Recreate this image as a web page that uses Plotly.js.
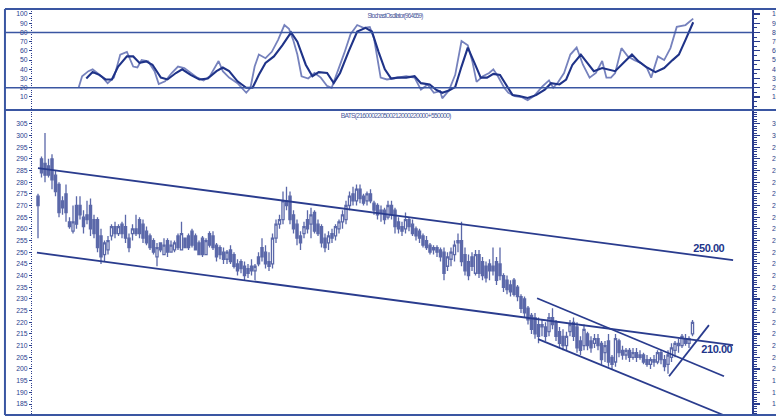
<!DOCTYPE html>
<html><head><meta charset="utf-8">
<script src="https://cdn.plot.ly/plotly-3.0.1.min.js"></script>
<style>
html,body{margin:0;padding:0;background:#fff;}
#chart{width:776px;height:417px;}
g.annotation[data-index="0"] text, g.annotation[data-index="1"] text{letter-spacing:-0.45px;}
g.annotation[data-index="2"] text, g.annotation[data-index="3"] text{letter-spacing:-0.8px;}
</style></head><body><div id="chart"></div>
<script>
// ---- candle data (daily OHLC) ----
const open = [274,290,288,287,290,283,279,272,275,263,
 259,270,270,265,266,270,264,264,257,249,
 251,257,261,258,262,261,256,258,260,264,
 262,259,257,255,248,254,249,255,250,251,
 257,251,256,257,259,257,254,256,249,258,
 257,253,252,250,247,251,249,245,246,244,
 243,244,242,248,252,250,246,245,256,262,
 264,272,274,266,262,257,258,264,262,267,
 262,261,256,254,258,257,260,263,264,270,
 275,272,277,274,272,275,271,270,267,268,
 265,270,268,263,261,260,264,262,260,259,
 257,255,253,252,252,251,250,244,247,249,
 254,255,249,246,248,241,249,246,244,245,
 244,246,245,240,238,236,238,235,231,230,
 226,223,222,219,218,218,216,222,220,216,
 214,210,216,220,218,212,210,215,212,211,
 213,211,207,212,205,203,212,208,206,208,
 205,207,205,206,204,202,204,203,207,204,
 202,205,208,211,210,213,211,215];
const high = [275,291,301,290,292,285,280,274,279,265,
 270,274,274,268,272,273,266,265,260,255,
 257,262,263,262,263,266,258,262,266,265,
 264,261,258,256,254,254,256,256,255,255,
 258,263,256,258,260,258,255,257,256,259,
 259,254,253,252,251,253,250,247,247,246,
 245,247,245,250,256,253,250,258,264,266,
 276,278,276,268,264,259,263,268,269,268,
 264,262,258,259,260,262,264,268,272,276,
 278,279,279,275,276,277,272,271,270,269,
 272,272,269,265,263,267,265,264,261,260,
 258,257,254,253,253,252,252,250,252,255,
 258,263,252,249,250,251,251,248,246,247,
 252,248,252,241,240,238,239,236,232,231,
 227,224,224,222,221,220,224,226,221,218,
 217,216,221,222,220,214,219,216,214,215,
 215,212,212,215,206,215,213,210,209,209,
 209,209,208,207,206,205,206,208,208,206,
 208,211,212,213,215,215,214,221];
const low = [256,282,280,282,277,274,265,266,263,260,
 258,260,264,258,262,257,256,250,245,246,
 249,255,256,257,256,254,250,255,257,256,
 254,253,251,249,244,250,249,248,250,250,
 251,251,252,251,252,251,249,248,249,252,
 251,246,247,245,245,245,243,240,241,238,
 239,240,238,244,246,243,242,243,254,260,
 262,268,262,258,253,251,256,258,256,258,
 257,252,250,251,254,255,258,260,262,268,
 270,270,271,270,270,271,266,264,263,262,
 264,264,258,258,257,258,259,257,255,254,
 252,251,249,249,248,246,238,242,244,246,
 250,244,240,238,242,240,239,238,237,238,
 240,236,238,233,232,231,231,229,224,222,
 219,215,213,211,214,212,214,217,212,209,
 208,208,214,212,207,206,208,208,207,209,
 208,202,203,201,200,201,205,204,204,203,
 204,203,204,202,201,200,201,202,202,199,
 198,203,205,207,209,210,209,214];
const close = [270,284,283,283,281,276,267,269,267,261,
 263,262,266,261,264,260,258,252,248,254,
 255,261,258,261,258,256,252,260,258,258,
 256,254,252,250,252,251,253,250,253,254,
 252,258,252,252,253,251,249,249,255,253,
 252,248,249,247,250,246,244,242,243,240,
 241,242,244,245,248,245,244,256,262,264,
 272,270,264,260,256,254,261,260,266,259,
 258,254,252,257,256,261,263,266,270,274,
 272,277,273,271,275,272,268,266,268,264,
 270,266,261,260,259,264,261,258,257,256,
 253,252,250,251,250,248,241,248,250,253,
 255,246,242,240,244,249,241,240,239,242,
 242,238,240,235,234,233,232,231,226,224,
 221,217,215,214,219,214,222,219,214,211,
 210,214,219,214,209,208,217,210,209,213,
 210,204,210,203,202,213,207,206,208,205,
 207,205,206,203,202,204,203,207,204,201,
 206,209,211,210,214,211,213,220];
const dayIndex = open.map((_, i) => i);

// ---- stochastic oscillator ----
const stochKx = [11.6,12.6,14.4,15.6,18.1,19.9,21.7,23.5,25.4,27.2,28.4,29.6,31.5,33.3,34.5,36.3,38.2,40.0,41.8,43.6,45.5,47.3,49.1,51.6,52.8,54.6,57.0,59.5,60.7,61.9,63.1,65.0,66.8,68.6,70.4,71.7,72.9,74.1,75.3,77.2,79.0,80.8,82.6,83.9,85.7,87.5,89.3,91.2,93.0,94.8,96.0,97.9,99.7,101.5,103.3,105.2,107.6,109.4,111.3,113.1,114.9,115.5,117.4,119.2,121.0,122.8,124.1,125.3,127.1,128.9,130.1,131.4,133.2,134.4,136.2,138.1,139.9,141.7,144.2,146.0,147.2,148.4,150.3,152.1,153.9,155.7,157.6,159.4,161.2,162.4,163.7,164.9,166.7,168.5,170.4,172.2,174.0,175.2,177.1,178.9,180.7,182.5,185.0,187.2];
const stochK = [20,32.5,38,40,32.5,25,31,56,59,43,42,50,48.6,38,24,27,36,43,41.4,36,31,28,32.5,49,38,31,25,14.6,20,43,56,52,59,72,88,84,72,56,32.5,30,36,31,22,20,38,57.5,78,88,85,86,73.6,31,29,30,31,32.5,31,18,23.6,14.6,16.4,8.6,17,34,70.7,66,48.6,26.4,32.5,36,40,32.5,20,14.6,11,10,6.5,11,21.8,28,20,25,36,56,63.6,45,31,36,49,31,31,36,63,54,50,47,41.4,31,54,50,63,86,88,95];
const stochDx = [13.8,15.6,17.5,19.3,21.1,22.9,25.4,27.2,29.0,30.9,32.7,35.1,37.0,39.4,41.2,43.6,46.1,48.5,51.0,52.8,54.6,57.0,59.5,61.3,63.1,65.0,67.4,69.8,72.3,74.1,76.5,78.4,80.2,82.6,84.5,86.3,88.7,91.2,93.6,95.4,97.3,99.1,100.9,102.7,105.2,107.6,109.4,111.9,113.7,115.5,117.4,119.2,121.0,122.8,124.7,126.5,128.3,130.1,132.0,133.8,135.6,137.5,139.9,142.3,144.8,146.6,149.0,150.9,152.7,155.1,157.0,158.8,161.2,163.0,164.9,167.3,169.7,171.6,174.0,176.4,178.9,181.3,183.1,185.0,187.2];
const stochD = [30,37,34,29,29,43,54,54,47,48.6,45,31,29,36,40,34,29,30,38,42,38,27,20,20,34,47,54,66,80,70,45,32.5,37,36,25,36,59,81,85,81,59,40,30,31,31,32.5,25,23.6,18,14.6,17,20.7,43,63.6,47,31,31,35,34,23.6,12,11,9,12,18,25,23.6,29,45,56,47,38,41.4,40,38,47,56,48.6,42,37,41.4,50,56,72,91];

// ---- tick labels ----
const priceTicks = [185,190,195,200,205,210,215,220,225,230,235,240,245,250,255,260,265,270,275,280,285,290,295,300,305];
const stochTicks = [10,20,30,40,50,60,70,80,90,100];
const stochLevels = [80,20];

// ---- trend lines (day index, price) ----
const trendX0 = [0, -0.3, 142.6, 142.9, 180.3];
const trendY0 = [286.0, 249.8, 230.3, 212.8, 196.9];
const trendX1 = [198.6, 198.6, 196.0, 196.0, 191.7];
const trendY1 = [246.6, 210.2, 196.9, 180.2, 218.8];
const levelLabels = ['250.00', '210.00'];
const levelLabelX = [186.3, 188.6];
const levelLabelY = [252.0, 208.5];
const stochTitle = 'StochastOscillator(964659)';
const priceTitle = 'BATS(216000220500212000220000+550000)';

const candleColor = '#5b68a9';
const lineColor = '#2a3c8e';
const frameColor = '#3a56a2';
const textColor = '#2b3e8e';
const splitY = (415 - 110) / 406;
const tickFont = {family: 'Liberation Sans, Arial, sans-serif', size: 6.8, color: textColor};

const traces = [
  {type: 'candlestick', x: dayIndex, open: open, high: high, low: low, close: close,
   xaxis: 'x', yaxis: 'y', whiskerwidth: 0, hoverinfo: 'skip',
   increasing: {line: {color: candleColor, width: 1.3}, fillcolor: '#ffffff'},
   decreasing: {line: {color: candleColor, width: 1.3}, fillcolor: candleColor}},
  {type: 'scatter', mode: 'lines', x: stochKx, y: stochK, xaxis: 'x', yaxis: 'y3',
   line: {color: '#7682bd', width: 1.8}, hoverinfo: 'skip'},
  {type: 'scatter', mode: 'lines', x: stochDx, y: stochD, xaxis: 'x', yaxis: 'y3',
   line: {color: '#1f3388', width: 2.1}, hoverinfo: 'skip'},
  {type: 'scatter', mode: 'lines', x: [0], y: [null], xaxis: 'x', yaxis: 'y2', hoverinfo: 'skip'},
  {type: 'scatter', mode: 'lines', x: [0], y: [null], xaxis: 'x', yaxis: 'y4', hoverinfo: 'skip'}
];

const shapes = [];
for (let i = 0; i < trendX0.length; i++) {
  shapes.push({type: 'line', xref: 'x', yref: 'y', x0: trendX0[i], y0: trendY0[i], x1: trendX1[i], y1: trendY1[i],
    line: {color: lineColor, width: 1.8}});
}
stochLevels.forEach(v => shapes.push({type: 'line', xref: 'paper', yref: 'y3', x0: -0.039, x1: 1, y0: v, y1: v,
  line: {color: frameColor, width: 1.6}}));
// frame
shapes.push({type: 'line', xref: 'paper', yref: 'paper', x0: -0.039, x1: -0.039, y0: 0, y1: 1, line: {color: frameColor, width: 2}});
[0, splitY, 1].forEach(y => shapes.push({type: 'line', xref: 'paper', yref: 'paper', x0: -0.039, x1: 1.05, y0: y, y1: y,
  line: {color: frameColor, width: 2}}));

const annotations = [
  {xref: 'x', yref: 'y', x: levelLabelX[0], y: levelLabelY[0], text: levelLabels[0], showarrow: false, xanchor: 'left', yanchor: 'middle',
   font: {family: 'Liberation Sans, Arial, sans-serif', size: 11, color: '#22358a', weight: 'bold'}},
  {xref: 'x', yref: 'y', x: levelLabelX[1], y: levelLabelY[1], text: levelLabels[1], showarrow: false, xanchor: 'left', yanchor: 'middle',
   font: {family: 'Liberation Sans, Arial, sans-serif', size: 11, color: '#22358a', weight: 'bold'}},
  {xref: 'paper', yref: 'paper', x: 0.5035, y: (415 - 16) / 406, text: stochTitle, showarrow: false, xanchor: 'center', yanchor: 'middle',
   font: {family: 'Liberation Sans, Arial, sans-serif', size: 6.3, color: '#4b5a9c'}},
  {xref: 'paper', yref: 'paper', x: 0.5035, y: (415 - 116.5) / 406, text: priceTitle, showarrow: false, xanchor: 'center', yanchor: 'middle',
   font: {family: 'Liberation Sans, Arial, sans-serif', size: 6.8, color: '#4b5a9c'}}
];

const leftAxis = (domain, range, vals, minorStep) => ({
  domain: domain, range: range, tickmode: 'array', tickvals: vals, ticks: 'outside', ticklen: 3, tickwidth: 1,
  tickcolor: textColor, tickfont: tickFont, showgrid: false, zeroline: false, showline: false, fixedrange: true,
  minor: {tickmode: 'linear', tick0: 0, dtick: minorStep, ticks: 'outside', ticklen: 1.5, tickwidth: 1, tickcolor: textColor, showgrid: false}
});
const rightAxis = (over, range, vals, minorStep) => ({
  overlaying: over, side: 'right', anchor: 'x', range: range, tickmode: 'array', tickvals: vals,
  ticks: 'outside', ticklen: 6, tickwidth: 1.2, tickcolor: lineColor, tickfont: tickFont, ticklabelstandoff: 11,
  showgrid: false, zeroline: false, showline: true, linecolor: lineColor, linewidth: 1.6, fixedrange: true,
  minor: {tickmode: 'linear', tick0: 0, dtick: minorStep, ticks: 'outside', ticklen: 3, tickwidth: 1, tickcolor: lineColor, showgrid: false}
});

const priceRange = [180.3, 310.9];
const stochRange = [-4.1, 105.4];
const layout = {
  width: 776, height: 417, margin: {l: 33, r: 24, t: 9, b: 2, pad: 0},
  paper_bgcolor: '#ffffff', plot_bgcolor: '#ffffff', showlegend: false, boxgap: 0.12,
  xaxis: {range: [-1.43, 204], visible: false, rangeslider: {visible: false}, fixedrange: true, anchor: 'y'},
  yaxis: leftAxis([0, splitY], priceRange, priceTicks, 1),
  yaxis2: rightAxis('y', priceRange, priceTicks, 1),
  yaxis3: leftAxis([splitY, 1], stochRange, stochTicks, 2.5),
  yaxis4: rightAxis('y3', stochRange, stochTicks, 5),
  shapes: shapes, annotations: annotations
};
layout.yaxis3.anchor = 'x';
layout.yaxis.anchor = 'x';

Plotly.newPlot('chart', traces, layout, {displayModeBar: false, staticPlot: true});
</script></body></html>
